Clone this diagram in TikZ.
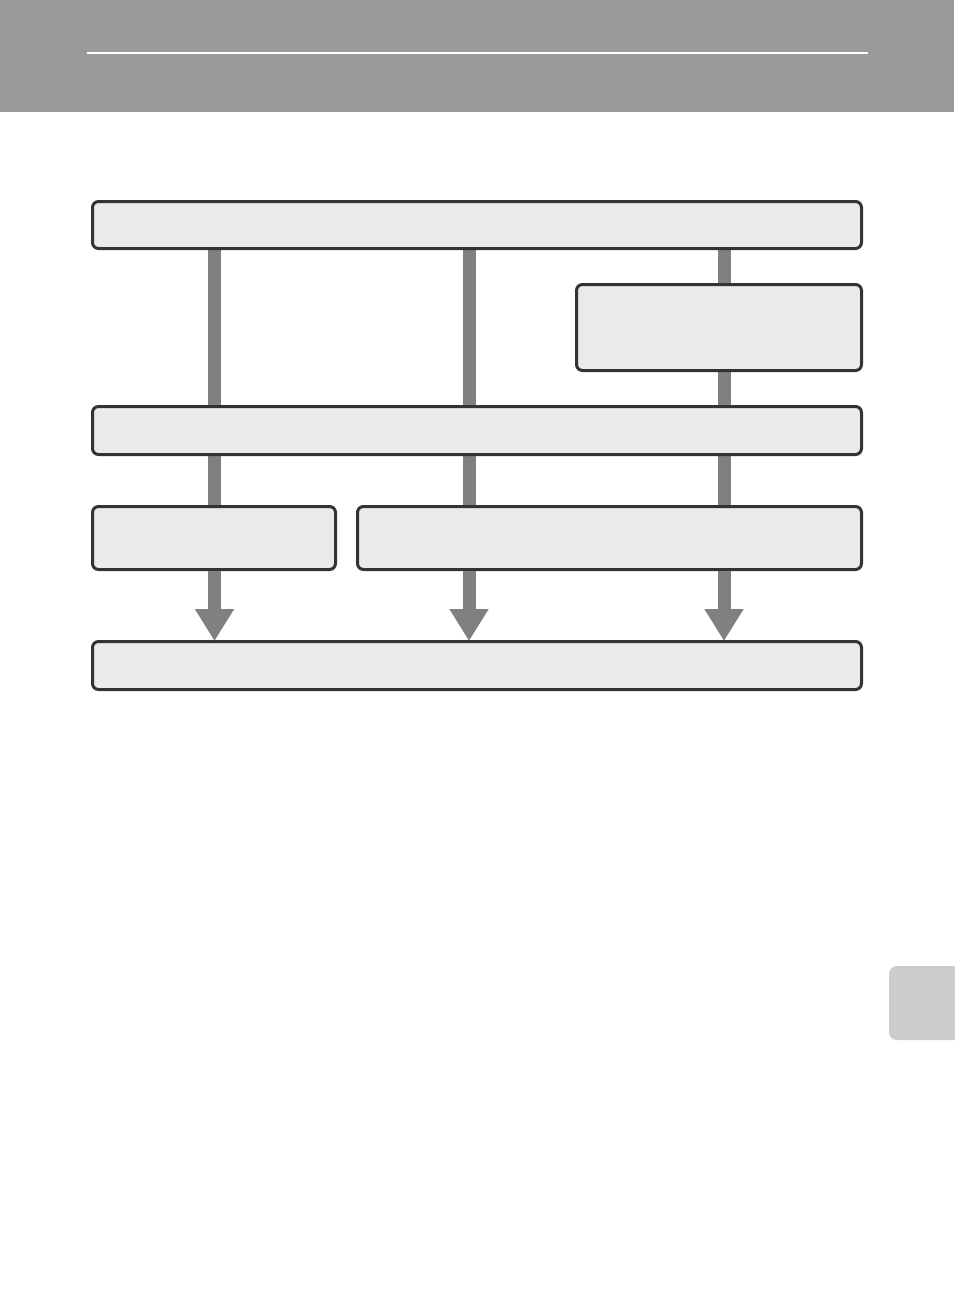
\documentclass[tikz,border=0pt]{standalone}
\usetikzlibrary{arrows.meta,backgrounds}
\definecolor{hdr}{HTML}{9A9A9A}
\definecolor{boxfill}{HTML}{EAEAEA}
\definecolor{boxline}{HTML}{333333}
\definecolor{conncol}{HTML}{808080}
\definecolor{tabcol}{HTML}{CCCCCC}
\begin{document}
\begin{tikzpicture}[x=0.5pt,y=-0.5pt,
  box/.style={draw=boxline,fill=boxfill,line width=1.5pt,rounded corners=3pt,inner sep=0pt},
  conn/.style={draw=conncol,line width=6.5pt},
  arr/.style={conn,-{Triangle[length=16pt,width=18.5pt]},shorten >=-0.5pt}]
\useasboundingbox (0,0) rectangle (954,1313);
\node[box,minimum width=384.5pt,minimum height=23.5pt] (top) at (477,225) {};
\node[box,minimum width=142.5pt,minimum height=43pt] (rsm) at (719,327.5) {};
\node[box,minimum width=384.5pt,minimum height=24pt] (mid) at (477,430.5) {};
\node[box,minimum width=121.5pt,minimum height=31.5pt] (lsm) at (214,538) {};
\node[box,minimum width=252pt,minimum height=31.5pt] (rwd) at (609.5,538) {};
\node[box,minimum width=384.5pt,minimum height=24pt] (bot) at (477,665.5) {};
\coordinate (c1) at (214.5,0);
\coordinate (c2) at (469,0);
\coordinate (c3) at (724,0);
\begin{scope}[on background layer]
\fill[white] (0,0) rectangle (954,1313);
\fill[hdr] (0,0) rectangle (954,112);
\draw[white,line width=1pt] (87,53) -- (868,53);
\fill[tabcol,rounded corners=4pt] (889,966) rectangle (970,1040);
\draw[conn] (c1 |- top.south) -- (c1 |- mid.north);
\draw[conn] (c2 |- top.south) -- (c2 |- mid.north);
\draw[conn] (c3 |- top.south) -- (c3 |- rsm.north);
\draw[conn] (c3 |- rsm.south) -- (c3 |- mid.north);
\draw[conn] (c1 |- mid.south) -- (c1 |- lsm.north);
\draw[conn] (c2 |- mid.south) -- (c2 |- rwd.north);
\draw[conn] (c3 |- mid.south) -- (c3 |- rwd.north);
\end{scope}
\draw[arr] (c1 |- lsm.south) -- (c1 |- bot.north);
\draw[arr] (c2 |- rwd.south) -- (c2 |- bot.north);
\draw[arr] (c3 |- rwd.south) -- (c3 |- bot.north);
\end{tikzpicture}
\end{document}
